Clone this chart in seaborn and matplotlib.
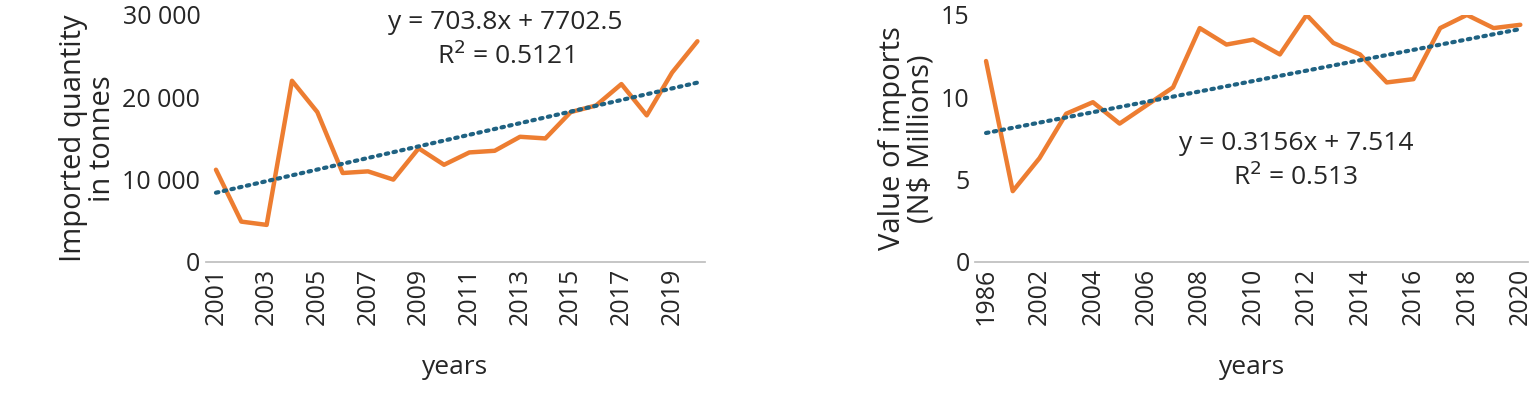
import numpy as np
import pandas as pd
import matplotlib
matplotlib.use("Agg")
import matplotlib.pyplot as plt
import seaborn as sns

sns.set_theme(style="white")
plt.rcParams['font.family'] = ['Open Sans', 'DejaVu Sans']

# left panel: imported quantity
years_q = list(range(2001, 2021))
quantity = [11200, 4900, 4500, 22000, 18200, 10800, 11000, 10000, 13800, 11800,
            13300, 13500, 15200, 15000, 18200, 19000, 21600, 17800, 23000, 26800]

# right panel: value of imports
years_v = [1986] + list(range(2001, 2021))
value = [12.2, 4.3, 6.3, 9.0, 9.7, 8.4, 9.5, 10.6, 14.2, 13.2, 13.5,
         12.6, 15.0, 13.3, 12.6, 10.9, 11.1, 14.2, 15.0, 14.2, 14.4]

orange = "#ED7D31"
teal = "#1F6282"

fig = plt.figure(figsize=(15.36, 4.03), dpi=100)
ax1 = fig.add_axes([0.134, 0.35, 0.325, 0.613])
ax2 = fig.add_axes([0.635, 0.35, 0.36, 0.613])


def panel(ax, yrs, vals, slope, icpt, ylim, yticks, ylabels, eq, eqpos, ylab):
    df = pd.DataFrame({"x": np.arange(1, len(yrs) + 1), "y": vals})
    sns.lineplot(data=df, x="x", y="y", ax=ax, color=orange, lw=3.2)
    ax.plot(df.x, slope * df.x + icpt, color=teal, lw=3, ls=(0, (0.6, 1.3)),
            dash_capstyle="round")
    ax.set_xlim(0.6, len(yrs) + 0.3)
    ax.set_ylim(*ylim)
    ax.set_yticks(yticks)
    ax.set_yticklabels(ylabels, fontsize=18)
    idx = list(range(0, len(yrs), 2))
    ax.set_xticks([i + 1 for i in idx])
    ax.set_xticklabels([str(yrs[i]) for i in idx], rotation=90, fontsize=18)
    for s in ["top", "right", "left"]:
        ax.spines[s].set_visible(False)
    ax.spines["bottom"].set_color("#bfbfbf")
    ax.tick_params(length=0, pad=4)
    ax.set_xlabel("years", fontsize=19, labelpad=22)
    ax.set_ylabel(ylab, fontsize=21, linespacing=1.0)
    ax.text(eqpos[0], eqpos[1], eq, transform=ax.transAxes, ha="center",
            va="top", fontsize=19, linespacing=1.3)


panel(ax1, years_q, quantity, 703.8, 7702.5, (0, 30000),
      [0, 10000, 20000, 30000], ["0", "10 000", "20 000", "30 000"],
      "y = 703.8x + 7702.5\nR$^2$ = 0.5121", (0.6, 1.02),
      "Imported quantity\nin tonnes")
panel(ax2, years_v, value, 0.3156, 7.514, (0, 15),
      [0, 5, 10, 15], ["0", "5", "10", "15"],
      "y = 0.3156x + 7.514\nR$^2$ = 0.513", (0.58, 0.53),
      "Value of imports\n(N$ Millions)")

fig.savefig("out.png", dpi=100)
